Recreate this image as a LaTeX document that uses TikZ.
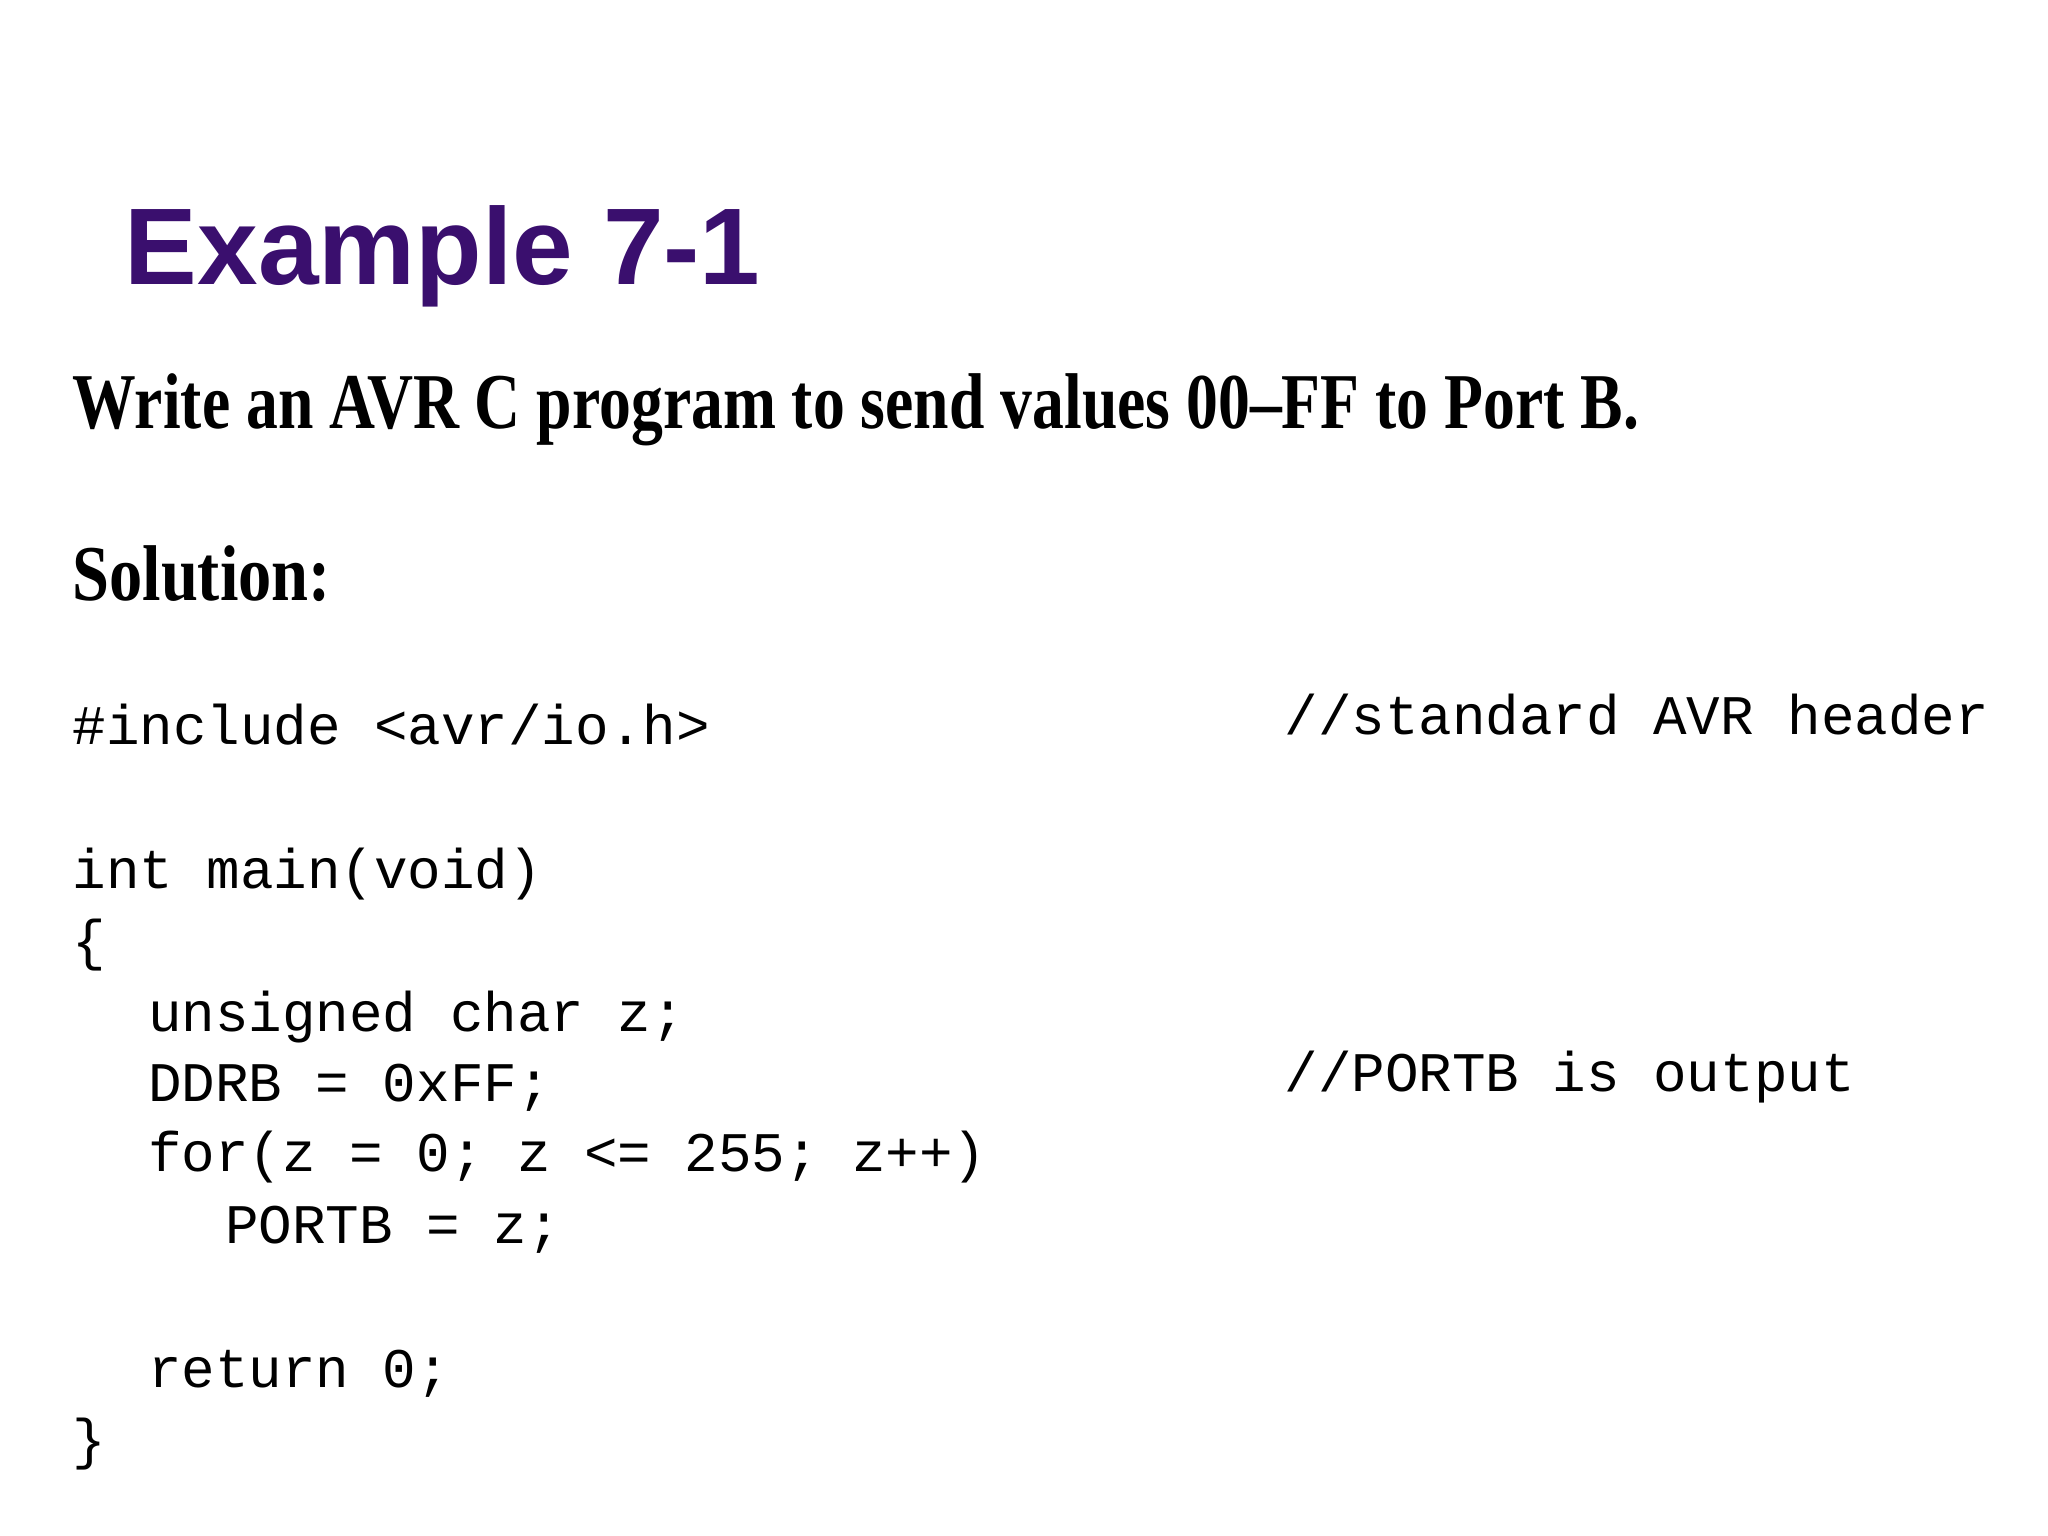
\documentclass[tikz,border=0pt]{standalone}
\usepackage{fontspec}
\setmainfont{Liberation Serif}
\newfontfamily\titlefont{Liberation Sans}
\setmonofont{Liberation Mono}
\definecolor{titlepurple}{HTML}{3A0F6E}
\begin{document}
\begin{tikzpicture}[x=0.01306cm,y=-0.01306cm,
  code/.style={anchor=base west,inner sep=0pt,font=\ttfamily\fontsize{15.9}{18}\selectfont},
  txt/.style={anchor=base west,inner sep=0pt,font=\bfseries\fontsize{22.5}{26}\selectfont}]
\useasboundingbox (0,0) rectangle (1568,1176);
\node[anchor=base west,inner sep=0pt,text=titlepurple,font=\titlefont\bfseries\fontsize{31}{36}\selectfont] (title) at (95,218) {Example 7-1};
\node[txt,xscale=0.805] (task) at (55,328) {Write an AVR C program to send values 00--FF to Port B.};
\node[txt,xscale=0.84] (sol) at (55,460) {Solution:};
\node[code] (l1) at (55,570) {\#include <avr/io.h>};
\node[code] (c1) at (983,562) {//standard AVR header};
\node[code] (l2) at (55,680) {int main(void)};
\node[code] (l3) at (55,735) {\{};
\node[code] (l4) at (113,790) {unsigned char z;};
\node[code] (l5) at (113,843) {DDRB = 0xFF;};
\node[code] (c2) at (983,836) {//PORTB is output};
\node[code] (l6) at (113,897) {for(z = 0; z <= 255; z++)};
\node[code] (l7) at (172,952) {PORTB = z;};
\node[code] (l8) at (113,1062) {return 0;};
\node[code] (l9) at (55,1117) {\}};
\end{tikzpicture}
\end{document}
